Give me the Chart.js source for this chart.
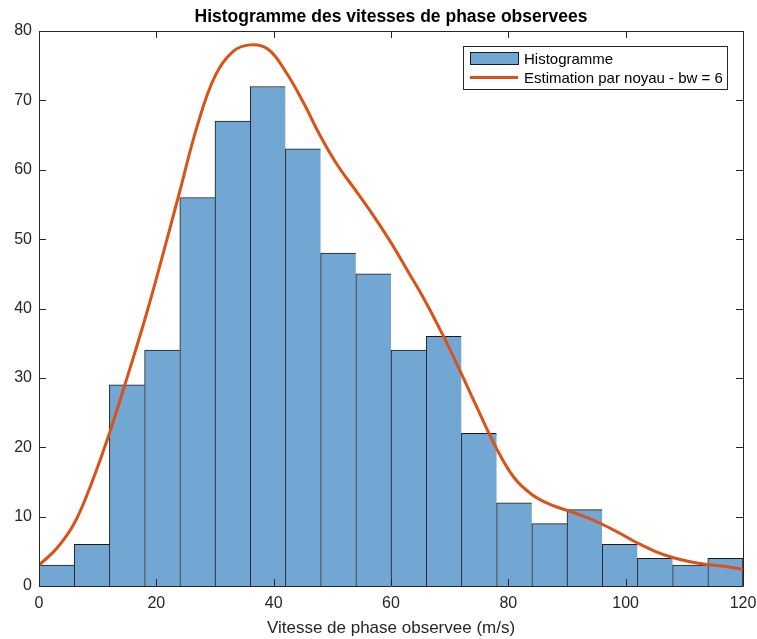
<!DOCTYPE html>
<html>
<head>
<meta charset="utf-8">
<script src="https://cdn.jsdelivr.net/npm/chart.js@4.4.1/dist/chart.umd.min.js"></script>
<style>
  html, body { margin: 0; padding: 0; background: #fff; }
  #wrap { width: 757px; height: 639px; }
</style>
</head>
<body>
<div id="wrap"><canvas id="c" width="757" height="639"></canvas></div>
<script>
// ---- data ----
const titleText = "Histogramme des vitesses de phase observees";
const xAxisTitle = "Vitesse de phase observee (m/s)";
const binStarts = [0, 6, 12, 18, 24, 30, 36, 42, 48, 54, 60, 66, 72, 78, 84, 90, 96, 102, 108, 114];
const binWidth = 6;
const counts = [3, 6, 29, 34, 56, 67, 72, 63, 48, 45, 34, 36, 22, 12, 9, 11, 6, 4, 3, 4];
const kdeX = [0, 3, 6, 9, 12, 15, 18, 21, 24, 27, 30, 33, 36, 39, 42, 45, 48, 51, 54, 57, 60,
              63, 66, 69, 72, 75, 78, 81, 84, 87, 90, 93, 96, 99, 102, 105, 108, 111, 114, 117, 120];
const kdeY = [3.0, 5.4, 9.0, 14.9, 22.0, 30.0, 38.3, 47.4, 56.9, 66.4, 73.5, 77.0, 78.0, 77.4, 74.2,
              69.8, 64.8, 60.5, 57.0, 53.4, 49.5, 45.2, 40.8, 35.9, 30.6, 25.1, 19.8, 15.6, 13.2, 11.8,
              10.9, 10.0, 8.9, 7.6, 6.2, 5.0, 4.1, 3.5, 3.1, 2.8, 2.4];
const xTicks = [0, 20, 40, 60, 80, 100, 120];
const yTicks = [0, 10, 20, 30, 40, 50, 60, 70, 80];
const histLabel = "Histogramme";
const kdeLabel = "Estimation par noyau - bw = 6";

const FONT = "'Liberation Sans', Arial, Helvetica, sans-serif";
const AXIS_COLOR = "#262626";
const BAR_COLOR = "#72a7d4";
const LINE_COLOR = "#d95319";

const histData = binStarts.map((s, i) => ({ x: s + binWidth / 2, y: counts[i] }));
const kdeData = kdeX.map((x, i) => ({ x: x, y: kdeY[i] }));

const framePlugin = {
  id: 'frame',
  afterDatasetsDraw(chart) {
    const { ctx, chartArea: a, scales } = chart;
    ctx.save();
    ctx.strokeStyle = AXIS_COLOR;
    ctx.lineWidth = 1;
    ctx.beginPath();
    ctx.rect(Math.round(a.left) + 0.5, Math.round(a.top) + 0.5,
             Math.round(a.right) - Math.round(a.left), Math.round(a.bottom) - Math.round(a.top));
    ctx.stroke();
    const tl = 7;
    ctx.beginPath();
    xTicks.forEach(v => {
      const px = Math.round(scales.x.getPixelForValue(v)) + 0.5;
      ctx.moveTo(px, a.bottom); ctx.lineTo(px, a.bottom - tl);
      ctx.moveTo(px, a.top); ctx.lineTo(px, a.top + tl);
    });
    yTicks.forEach(v => {
      const py = Math.round(scales.y.getPixelForValue(v)) + 0.5;
      ctx.moveTo(a.left, py); ctx.lineTo(a.left + tl, py);
      ctx.moveTo(a.right, py); ctx.lineTo(a.right - tl, py);
    });
    ctx.stroke();

    // title
    ctx.fillStyle = "#000";
    ctx.font = "bold 17.5px " + FONT;
    ctx.textAlign = "center";
    ctx.textBaseline = "middle";
    ctx.fillText(titleText, (a.left + a.right) / 2, 17);

    // legend
    const lx = 463.5, ly = 46.5, lw = 264, lh = 43;
    ctx.fillStyle = "#fff";
    ctx.fillRect(lx, ly, lw, lh);
    ctx.strokeStyle = AXIS_COLOR;
    ctx.strokeRect(lx, ly, lw, lh);
    ctx.fillStyle = BAR_COLOR;
    ctx.fillRect(470.5, 52.5, 48, 12);
    ctx.strokeStyle = "#1a1a1a";
    ctx.strokeRect(470.5, 52.5, 48, 12);
    ctx.strokeStyle = LINE_COLOR;
    ctx.lineWidth = 3;
    ctx.beginPath(); ctx.moveTo(470, 77.5); ctx.lineTo(518, 77.5); ctx.stroke();
    ctx.fillStyle = "#000";
    ctx.font = "15px " + FONT;
    ctx.textAlign = "left";
    ctx.fillText(chart.data.datasets[0].label, 524, 59.5);
    ctx.fillText(chart.data.datasets[1].label, 524, 78.5);
    ctx.restore();
  }
};

new Chart(document.getElementById('c'), {
  type: 'bar',
  data: {
    datasets: [
      {
        type: 'bar',
        label: histLabel,
        data: histData,
        backgroundColor: BAR_COLOR,
        borderColor: '#1a1a1a',
        borderWidth: ctx => ({ top: 1, left: 1, bottom: 0, right: ctx.dataIndex === counts.length - 1 ? 1 : 0 }),
        borderSkipped: false,
        barPercentage: 1,
        categoryPercentage: 1,
        grouped: false,
        order: 2
      },
      {
        type: 'line',
        label: kdeLabel,
        data: kdeData,
        borderColor: LINE_COLOR,
        borderWidth: 3,
        pointRadius: 0,
        fill: false,
        tension: 0.4,
        order: 0
      }
    ]
  },
  options: {
    responsive: false,
    animation: false,
    devicePixelRatio: 1,
    layout: { padding: { left: 0, top: 31, right: 14, bottom: 0 } },
    plugins: {
      legend: { display: false },
      title: { display: false },
      tooltip: { enabled: false }
    },
    scales: {
      x: {
        type: 'linear',
        min: 0, max: 120,
        offset: false,
        grid: { display: false, drawTicks: false },
        border: { display: false },
        afterBuildTicks: s => { s.ticks = xTicks.map(v => ({ value: v })); },
        afterFit: s => { s.height = 53; s.paddingLeft = 0; s.paddingRight = 0; },
        ticks: {
          color: AXIS_COLOR,
          font: { family: FONT, size: 16 },
          padding: 8,
          maxRotation: 0
        },
        title: {
          display: true,
          text: xAxisTitle,
          color: AXIS_COLOR,
          font: { family: FONT, size: 17 },
          padding: { top: 1, bottom: 0 }
        }
      },
      y: {
        min: 0, max: 80,
        grid: { display: false, drawTicks: false },
        border: { display: false },
        afterBuildTicks: s => { s.ticks = yTicks.map(v => ({ value: v })); },
        afterFit: s => { s.width = 39; s.paddingTop = 0; s.paddingBottom = 0; },
        ticks: {
          color: AXIS_COLOR,
          font: { family: FONT, size: 16 },
          padding: 7
        }
      }
    }
  },
  plugins: [framePlugin]
});
</script>
</body>
</html>
